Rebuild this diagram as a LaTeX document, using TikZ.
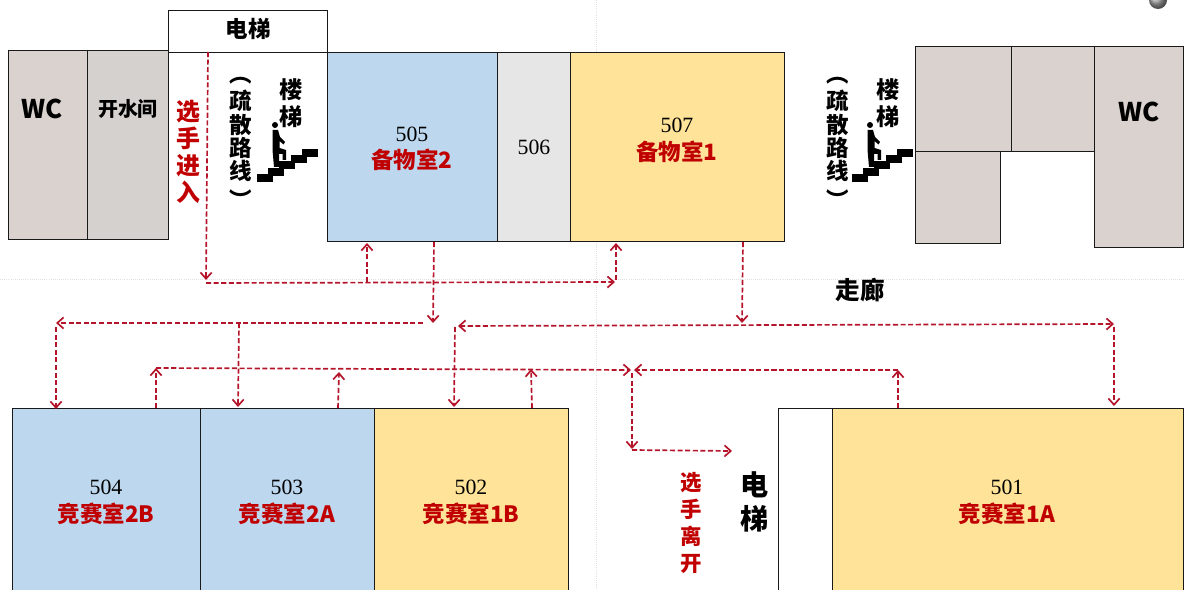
\documentclass[tikz,border=0pt]{standalone}
\usepackage{fontspec}
\setmainfont{Noto Sans CJK SC}
\newfontfamily\numfont{Liberation Serif}
\newfontfamily\vertfont[RawFeature=+vert]{Noto Sans CJK SC}
\usetikzlibrary{positioning,calc,arrows,arrows.meta,shadings}
\definecolor{wcgrey}{HTML}{D9D2CF}
\definecolor{waterbg}{HTML}{D5D1CF}
\definecolor{roomblue}{HTML}{BDD7EE}
\definecolor{roomyellow}{HTML}{FFE399}
\definecolor{roomlight}{HTML}{E7E6E6}
\definecolor{flowred}{HTML}{B5152B}
\definecolor{labelred}{HTML}{C00000}
\tikzset{
	room/.style 2 args={draw=black!90, line width=0.6pt, inner sep=0pt, outer sep=0pt, anchor=north west, minimum width=#1*0.025cm, minimum height=#2*0.025cm},
	flow/.style={draw=flowred, line width=1.2pt, dash pattern=on 3.6pt off 1.8pt, ->, >={Straight Barb[length=4.5pt,width=8pt]}},
	guide/.style={draw=black!12, line width=0.5pt, densely dotted},
	numtext/.style={font=\fontsize{15.5}{16}\selectfont\numfont, inner sep=0pt},
	redtext/.style={font=\fontsize{16}{18}\selectfont\bfseries, text=labelred, inner sep=0pt},
	boldtext/.style={font=\fontsize{#1}{#1}\selectfont\bfseries, inner sep=0pt, align=center},
	stairman/.pic={
		\foreach \i in {0,...,4}
			\fill[black] ({\i*11.2},{-\i*6.3}) rectangle ++(16,-8);
		\fill[black] (18,-57) circle (3);
		\fill[black] (15.5,-52) -- (21,-52) -- (23,-45) -- (28,-40) -- (26.5,-37.5) -- (22.5,-41) -- (22.5,-34) -- (29,-32) -- (29,-22) -- (25.5,-22) -- (25.5,-28) -- (22,-28) -- (22,-15) -- (17,-15) -- (15.5,-32) -- cycle;
	}
}

\begin{document}
\begin{tikzpicture}[x=0.025cm, y=-0.025cm]
	\path[use as bounding box, clip] (0,0) rectangle (1184,590);

	% faint page guides
	\coordinate (guideW) at (0,279);
	\coordinate (guideE) at (1184,279);
	\coordinate (guideN) at (596,0);
	\coordinate (guideS) at (596,590);
	\draw[guide] (guideW) -- (guideE);
	\draw[guide] (guideN) -- (guideS);
	\node[circle, ball color=black!35, inner sep=0pt, minimum size=0.45cm] (ball) at (1158,0) {};

	% upper rooms
	\node[room={159}{42}] (lift) at (168,10) {};
	\node[room={79}{189}, fill=wcgrey] (wcW) at (8,50) {};
	\node[room={81}{189}, fill=waterbg] (water) at (87,50) {};
	\node[room={170}{189}, fill=roomblue] (r505) at (327,52) {};
	\node[room={73}{189}, fill=roomlight] (r506) at (497,52) {};
	\node[room={214}{189}, fill=roomyellow] (r507) at (570,52) {};
	\node[room={96}{105}, fill=wcgrey] (storeA) at (915,46) {};
	\node[room={83}{105}, fill=wcgrey] (storeB) at (1011,46) {};
	\node[room={85}{92}, fill=wcgrey] (storeC) at (915,151) {};
	\node[room={89}{201}, fill=wcgrey] (wcE) at (1094,46) {};

	% lower rooms
	\node[room={188}{190}, fill=roomblue] (r504) at (12,408) {};
	\node[room={174}{190}, fill=roomblue] (r503) at (200,408) {};
	\node[room={194}{190}, fill=roomyellow] (r502) at (374,408) {};
	\node[room={54}{190}] (liftE) at (778,408) {};
	\node[room={351}{190}, fill=roomyellow] (r501) at (832,408) {};

	% texts
	\node[boldtext=16] (tLift) at (248,29) {电梯};
	\node[boldtext=18.3] (tWcW) at (42,109) {WC};
	\node[boldtext=14.2] (tWater) at (128,109) {开水间};
	\node[boldtext=18.3] (tWcE) at (1139,112) {WC};
	\node[boldtext=17.5] (tHall) at (860,290) {走廊};
	\node[numtext] (n505) at (412,134) {505};
	\node[redtext] (t505) at (412,160) {备物室2};
	\node[numtext] (n506) at (534,147) {506};
	\node[numtext] (n507) at (677,125) {507};
	\node[redtext] (t507) at (677,152) {备物室1};
	\node[numtext] (n504) at (106,487) {504};
	\node[redtext] (t504) at (106,514) {竞赛室2B};
	\node[numtext] (n503) at (287,487) {503};
	\node[redtext] (t503) at (287,514) {竞赛室2A};
	\node[numtext] (n502) at (471,487) {502};
	\node[redtext] (t502) at (471,514) {竞赛室1B};
	\node[numtext] (n501) at (1007,487) {501};
	\node[redtext] (t501) at (1007,514) {竞赛室1A};

	\node[redtext, align=center, font=\fontsize{17}{19.2}\selectfont\bfseries] (tEnter) at (188,152) {选\\手\\进\\入};
	\node[redtext, align=center, font=\fontsize{15.2}{19.2}\selectfont\bfseries] (tLeave) at (691,523) {选\\手\\离\\开};
	\node[boldtext=20, font=\fontsize{20}{24.5}\selectfont\bfseries] (tLiftE) at (755,502) {电\\梯};
	\node[boldtext=16.5, font=\fontsize{16.5}{19.2}\selectfont\bfseries] (tStairW) at (291,103) {楼\\梯};
	\node[boldtext=16.5, font=\fontsize{16.5}{19.2}\selectfont\bfseries] (tStairE) at (888,103) {楼\\梯};
	\node[boldtext=16, font=\fontsize{16}{16.6}\selectfont\bfseries\vertfont] (tEscW) at (241,143) {（\\[3pt]疏\\散\\路\\线\\[4pt]）};
	\node[boldtext=16, font=\fontsize{16}{16.6}\selectfont\bfseries\vertfont] (tEscE) at (838,143) {（\\[3pt]疏\\散\\路\\线\\[4pt]）};

	% stair signs
	\pic (signW) at (257,182) {stairman};
	\pic (signE) at (852,182) {stairman};

	% route points
	\foreach \name/\x/\y in {
		a1/208/52, a2/206/280, a3/206/283, a4/615/282, a5/367/282, a6/367/243, a7/616/280, a8/616/243,
		b1/434/242, b2/433/323, b3/423/323, b4/56/323, b5/56/327, b6/56/409, b7/239/323, b8/238/407,
		c1/156/408, c2/156/368, c3/631/370, c4/338/408, c5/339/372, c6/532/408, c7/531/369,
		d1/455/327, d2/454/407, d3/458/326, d4/1114/324, d5/743/242, d6/742/323, d7/1114/327, d8/1114/406,
		e1/898/408, e2/898/370, e3/634/370, e4/632/373, e5/632/449, e6/632/450, e7/732/451}
		\coordinate (\name) at (\x,\y);

	% routes
	\draw[flow] (a1) -- (a2);
	\draw[flow] (a3) -- (a4);
	\draw[flow] (a5) -- (a6);
	\draw[flow] (a7) -- (a8);
	\draw[flow] (b1) -- (b2);
	\draw[flow] (b3) -- (b4);
	\draw[flow] (b5) -- (b6);
	\draw[flow] (b7) -- (b8);
	\draw[flow] (c1) -- (c2);
	\draw[flow] (c2) -- (c3);
	\draw[flow] (c4) -- (c5);
	\draw[flow] (c6) -- (c7);
	\draw[flow] (d1) -- (d2);
	\draw[flow, <->] (d3) -- (d4);
	\draw[flow] (d5) -- (d6);
	\draw[flow] (d7) -- (d8);
	\draw[flow] (e1) -- (e2);
	\draw[flow] (e2) -- (e3);
	\draw[flow] (e4) -- (e5);
	\draw[flow] (e6) -- (e7);
\end{tikzpicture}
\end{document}
